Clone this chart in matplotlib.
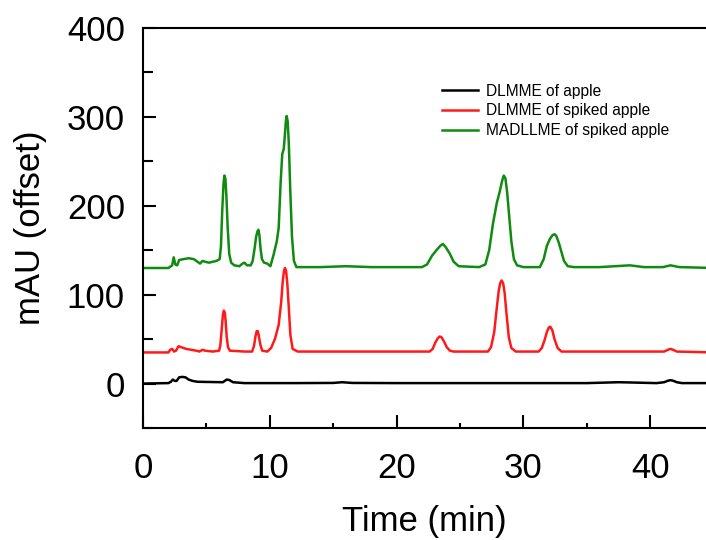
#!/usr/bin/env python3
"""HPLC chromatograms of apple extracts, stacked with a vertical offset."""

import matplotlib
matplotlib.use("Agg")
import matplotlib.pyplot as plt
from matplotlib.ticker import MultipleLocator

plt.rcParams["font.family"] = ["Liberation Sans", "DejaVu Sans"]

# retention time (min) / absorbance (mAU, offset already applied)
apple_t = [0, 2.0, 2.2, 2.35, 2.5, 2.65, 2.85, 3.1, 3.35, 3.6, 3.9, 4.3, 6.3, 6.6,
           6.8, 7.1, 8.0, 12.0, 15.0, 15.7, 16.5, 20.0, 25.0, 30.0, 35.0, 37.5,
           38.5, 40.5, 41.1, 41.4, 41.6, 41.8, 42.1, 42.5, 45.0]
apple_y = [0, 0.5, 2, 4.5, 3, 3, 7, 7.5, 7, 4.5, 3, 2, 1.5, 4.5,
           4, 1.5, 0.5, 0.5, 0.7, 1.5, 0.7, 0.5, 0.5, 0.5, 0.5, 1.5,
           1.2, 0.5, 1.5, 3.2, 3.8, 3.2, 1.5, 0.5, 0.5]

spiked_t = [0, 2.0, 2.15, 2.3, 2.45, 2.6, 2.8, 3.0, 3.4, 3.8, 4.2, 4.45, 4.7, 4.9,
            5.5, 6.0, 6.1, 6.2, 6.3, 6.37, 6.45, 6.52, 6.6, 6.7, 6.85, 8.0, 8.6,
            8.75, 8.87, 8.97, 9.05, 9.13, 9.25, 9.4, 9.8, 10.1, 10.4, 10.7, 10.9,
            11.02, 11.12, 11.2, 11.28, 11.38, 11.5, 11.62, 11.8, 12.2, 16.0, 20.0,
            22.6, 22.85, 23.05, 23.25, 23.4, 23.55, 23.75, 23.95, 24.2, 24.5, 27.2,
            27.45, 27.7, 27.9, 28.05, 28.17, 28.28, 28.4, 28.52, 28.67, 28.85, 29.05,
            29.4, 31.2, 31.45, 31.65, 31.85, 32.0, 32.12, 32.28, 32.45, 32.7, 33.0,
            38.0, 41.1, 41.4, 41.6, 41.8, 42.1, 45.0]
spiked_y = [35, 35, 38, 39, 36, 37, 42, 41, 39, 38, 37, 36, 38, 37,
            36, 37, 43, 60, 77, 82, 80, 70, 53, 41, 37, 36, 36,
            42, 53, 59, 59, 54, 44, 37, 36, 40, 50, 66, 92,
            115, 127, 130, 127, 113, 85, 55, 39, 36, 36, 36,
            36, 39, 46, 51, 53, 52, 47, 41, 37, 36, 36,
            41, 58, 85, 104, 113, 116, 113, 102, 78, 52, 40,
            36, 36, 40, 48, 58, 63, 64, 60, 50, 40, 36,
            36, 36, 38, 39, 38, 36, 35]

madllme_t = [0, 2.0, 2.3, 2.42, 2.55, 2.7, 2.85, 3.2, 3.6, 4.0, 4.3, 4.5, 4.7, 4.9,
             5.2, 5.8, 6.05, 6.15, 6.25, 6.35, 6.42, 6.5, 6.58, 6.68, 6.8, 6.95,
             7.2, 7.6, 7.85, 8.0, 8.2, 8.5, 8.65, 8.8, 8.92, 9.02, 9.1, 9.18, 9.27,
             9.38, 9.55, 9.8, 10.05, 10.3, 10.55, 10.7, 10.85, 10.98, 11.1, 11.18,
             11.26, 11.33, 11.41, 11.5, 11.62, 11.75, 11.9, 12.1, 14.0, 16.0, 18.0,
             20.0, 22.0, 22.4, 22.8, 23.2, 23.45, 23.65, 23.85, 24.2, 24.5, 24.9,
             26.5, 27.0, 27.3, 27.6, 27.9, 28.15, 28.32, 28.45, 28.58, 28.72, 28.88,
             29.05, 29.25, 29.5, 30.0, 31.3, 31.6, 31.85, 32.1, 32.3, 32.45, 32.6,
             32.8, 33.0, 33.2, 33.5, 34.0, 36.0, 38.4, 39.5, 41.0, 41.6, 42.3, 45.0]
madllme_y = [130, 130, 133, 142, 134, 133, 139, 140, 141, 140, 137, 135, 138, 137,
             136, 138, 140, 155, 195, 225, 234, 230, 210, 175, 146, 136,
             133, 132, 135, 136, 133, 133, 138, 152, 165, 171, 173, 167, 152,
             140, 136, 135, 132, 145, 160, 175, 225, 258, 264, 278,
             294, 301, 295, 270, 215, 165, 138, 131, 131, 132, 131,
             131, 131, 134, 144, 151, 155, 157, 154, 146, 137, 132,
             131, 134, 150, 180, 203, 217, 228, 234, 231, 215, 188,
             160, 140, 133, 131, 131, 140, 155, 163, 167, 168, 166,
             158, 148, 138, 132, 131, 131, 133, 131, 131, 133, 131, 130]

labels = ["DLMME of apple", "DLMME of spiked apple", "MADLLME of spiked apple"]
colors = ["#000000", "#ff1a1a", "#118a11"]

fig = plt.figure(figsize=(7.06, 5.40), dpi=100)
ax = fig.add_axes([143 / 706, 1 - 428 / 540, 1 - 143 / 706, 400 / 540])

for t, y, lab, c in zip([apple_t, spiked_t, madllme_t],
                        [apple_y, spiked_y, madllme_y], labels, colors):
    ax.plot(t, y, color=c, lw=1.8, label=lab, solid_joinstyle="round")

ax.set_xlim(0, 44.4)
ax.set_ylim(-50, 400)
ax.xaxis.set_major_locator(MultipleLocator(10))
ax.xaxis.set_minor_locator(MultipleLocator(5))
ax.yaxis.set_major_locator(MultipleLocator(100))
ax.yaxis.set_minor_locator(MultipleLocator(50))
ax.tick_params(which="both", direction="in", width=1.5, labelsize=25, top=False, right=False)
ax.tick_params(axis="x", which="major", length=9.5, pad=17)
ax.tick_params(axis="x", which="minor", length=3.5)
ax.tick_params(axis="y", which="major", length=9.5, pad=13)
ax.tick_params(axis="y", which="minor", length=7)
ax.spines["right"].set_visible(False)
for side in ("left", "bottom", "top"):
    ax.spines[side].set_linewidth(1.5)

ax.set_xlabel("Time (min)", fontsize=25, labelpad=15)
ax.set_ylabel("mAU (offset)", fontsize=25, labelpad=14)

ax.legend(loc="upper left", bbox_to_anchor=(0.52, 0.876), frameon=False, fontsize=11.2,
          handlelength=2.3, handletextpad=0.55, labelspacing=0.3, borderaxespad=0)

fig.savefig("out.png", dpi=100, facecolor="white")
